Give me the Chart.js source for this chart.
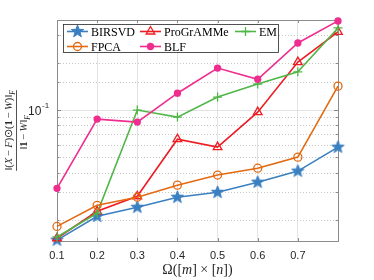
<!DOCTYPE html>
<html>
<head>
<meta charset="utf-8">
<script src="https://cdn.jsdelivr.net/npm/chart.js@4.4.0/dist/chart.umd.min.js"></script>
<style>
  html, body { margin: 0; padding: 0; background: #fff; }
</style>
</head>
<body>
<canvas id="errChart" width="374" height="280"></canvas>
<script>
// sampling ratio on the x axis
const omega = [0.1, 0.2, 0.3, 0.4, 0.5, 0.6, 0.7, 0.8];
const xTickLabels = ["0.1", "0.2", "0.3", "0.4", "0.5", "0.6", "0.7", ""];

// relative error for each method
const birsvd = [0.0149, 0.0211, 0.0241, 0.0279, 0.0300, 0.0348, 0.0409, 0.0581];
const programme = [0.0153, 0.0227, 0.0283, 0.0653, 0.0581, 0.097, 0.202, 0.314];
const em = [0.0156, 0.0221, 0.100, 0.0902, 0.121, 0.1465, 0.175, 0.333];
const fpca = [0.0182, 0.0248, 0.0279, 0.0333, 0.0386, 0.0427, 0.0502, 0.142];
const blf = [0.0318, 0.0876, 0.0839, 0.128, 0.185, 0.157, 0.267, 0.369];

const yMin = 0.0147;
const yMax = 0.374;

function starImage(color, r) {
  const c = document.createElement("canvas");
  const s = Math.ceil(r * 2 + 2);
  c.width = s;
  c.height = s;
  const g = c.getContext("2d");
  g.beginPath();
  for (let k = 0; k < 10; k++) {
    const rad = k % 2 ? r * 0.42 : r;
    const a = -Math.PI / 2 + (k * Math.PI) / 5;
    g.lineTo(s / 2 + rad * Math.cos(a), s / 2 + rad * Math.sin(a));
  }
  g.closePath();
  g.fillStyle = color;
  g.fill();
  g.strokeStyle = color;
  g.lineWidth = 1;
  g.stroke();
  return c;
}

const blue = "#3a7fc1";
const red = "#ee1c24";
const green = "#50b648";
const orange = "#e26a12";
const pink = "#ee2d8e";

// legend order (row by row, 3 columns)
const series = [
  { label: "BIRSVD", values: birsvd, color: blue, style: starImage(blue, 6.5), radius: 6.5, fill: blue },
  { label: "ProGrAMMe", values: programme, color: red, style: "triangle", radius: 5, fill: "rgba(255,255,255,0)" },
  { label: "EM", values: em, color: green, style: "cross", radius: 4.5, fill: green },
  { label: "FPCA", values: fpca, color: orange, style: "circle", radius: 4, fill: "rgba(255,255,255,0)" },
  { label: "BLF", values: blf, color: pink, style: "circle", radius: 3, fill: pink },
];

function isMajor(v) {
  const l = Math.log10(v);
  return Math.abs(l - Math.round(l)) < 1e-6;
}

function drawSegments(ctx, segs, x, y) {
  let cx = x;
  for (const s of segs) {
    ctx.font = s.font;
    ctx.fillText(s.t, cx, y + (s.dy || 0));
    cx += ctx.measureText(s.t).width;
  }
}

function segWidth(ctx, segs) {
  let w = 0;
  for (const s of segs) {
    ctx.font = s.font;
    w += ctx.measureText(s.t).width;
  }
  return w;
}

const boxColor = "#8c8c8c";
const serif = "'Liberation Serif', serif";

const decor = {
  id: "decor",
  beforeDatasetsDraw(chart) {
    const ctx = chart.ctx;
    const a = chart.chartArea;
    const xs = chart.scales.x;
    const ys = chart.scales.y;
    ctx.save();
    // dotted minor grid lines of the log axis
    ctx.strokeStyle = "#c8c8c8";
    ctx.lineWidth = 1;
    ctx.setLineDash([1, 2]);
    ctx.beginPath();
    ys.ticks.forEach((t) => {
      if (t.value <= yMin * 1.001 || t.value >= yMax * 0.999 || isMajor(t.value)) return;
      const py = Math.round(ys.getPixelForValue(t.value)) + 0.5;
      ctx.moveTo(a.left, py);
      ctx.lineTo(a.right, py);
    });
    ctx.stroke();
    ctx.setLineDash([]);

    ctx.strokeStyle = boxColor;
    ctx.lineWidth = 1;
    ctx.strokeRect(Math.round(a.left) + 0.5, Math.round(a.top) + 0.5,
      Math.round(a.right - a.left), Math.round(a.bottom - a.top));
    // inner tick marks on all four sides
    ctx.beginPath();
    xs.ticks.forEach((t) => {
      const px = Math.round(xs.getPixelForValue(t.value)) + 0.5;
      ctx.moveTo(px, a.bottom);
      ctx.lineTo(px, a.bottom - 3);
      ctx.moveTo(px, a.top);
      ctx.lineTo(px, a.top + 3);
    });
    ys.ticks.forEach((t) => {
      if (t.value <= yMin || t.value >= yMax) return;
      const py = Math.round(ys.getPixelForValue(t.value)) + 0.5;
      const len = isMajor(t.value) ? 4 : 2.5;
      ctx.moveTo(a.left, py);
      ctx.lineTo(a.left + len, py);
      ctx.moveTo(a.right, py);
      ctx.lineTo(a.right - len, py);
    });
    ctx.stroke();
    ctx.restore();
  },
  afterDraw(chart) {
    const ctx = chart.ctx;
    const a = chart.chartArea;
    const ys = chart.scales.y;
    ctx.save();
    ctx.fillStyle = "#262626";

    // 10^-1 tick label
    const py = ys.getPixelForValue(0.1);
    ctx.textBaseline = "middle";
    ctx.textAlign = "left";
    ctx.font = "12px 'Liberation Sans', sans-serif";
    ctx.fillText("10", 28, py + 2);
    ctx.font = "8px 'Liberation Sans', sans-serif";
    ctx.fillText("-1", 42, py - 4);

    // x title
    ctx.textBaseline = "middle";
    const f = "14px " + serif;
    const fi = "italic 14px " + serif;
    const xt = [
      { t: "Ω([", font: f }, { t: "m", font: fi }, { t: "] × [", font: f },
      { t: "n", font: fi }, { t: "])", font: f },
    ];
    const cxm = (a.left + a.right) / 2;
    drawSegments(ctx, xt, cxm - segWidth(ctx, xt) / 2, 270);

    // y title as rotated fraction
    ctx.save();
    ctx.translate(16, (a.top + a.bottom) / 2);
    ctx.rotate(-Math.PI / 2);
    ctx.textBaseline = "alphabetic";
    const r = "10.5px " + serif;
    const it = "italic 10.5px " + serif;
    const b = "bold 10.5px " + serif;
    const sub = "italic 7.5px " + serif;
    const num = [
      { t: "‖(", font: r }, { t: "X", font: it }, { t: "\u2009−\u2009", font: r }, { t: "F", font: it },
      { t: ")⊙(", font: r }, { t: "1", font: b }, { t: "\u2009−\u2009", font: r }, { t: "W", font: it },
      { t: ")‖", font: r }, { t: "F", font: sub, dy: 3 },
    ];
    const den = [
      { t: "‖", font: r }, { t: "1", font: b }, { t: "\u2009−\u2009", font: r }, { t: "W", font: it },
      { t: "‖", font: r }, { t: "F", font: sub, dy: 3 },
    ];
    const wn = segWidth(ctx, num);
    const wd = segWidth(ctx, den);
    drawSegments(ctx, num, -wn / 2, -4);
    drawSegments(ctx, den, -wd / 2 - 2, 11);
    ctx.strokeStyle = "#262626";
    ctx.lineWidth = 0.8;
    ctx.beginPath();
    ctx.moveTo(-wn / 2, 0.5);
    ctx.lineTo(wn / 2, 0.5);
    ctx.stroke();
    ctx.restore();

    // legend
    const lx = 63.5, ly = 24.5, lw = 215, lh = 28;
    ctx.fillStyle = "#fff";
    ctx.fillRect(lx, ly, lw, lh);
    ctx.strokeStyle = "#262626";
    ctx.lineWidth = 0.8;
    ctx.strokeRect(lx, ly, lw, lh);
    const colX = [67, 140, 235];
    const rowY = [31.5, 46.5];
    series.forEach((s, i) => {
      const x0 = colX[i % 3];
      const y0 = rowY[Math.floor(i / 3)];
      ctx.strokeStyle = s.color;
      ctx.lineWidth = 1.6;
      ctx.beginPath();
      ctx.moveTo(x0, y0);
      ctx.lineTo(x0 + 21, y0);
      ctx.stroke();
      ctx.fillStyle = s.fill;
      ctx.lineWidth = 1.3;
      Chart.helpers.drawPoint(ctx, {
        pointStyle: s.style, radius: s.radius, rotation: 0, borderWidth: 1.3,
      }, x0 + 10.5, y0);
      ctx.fillStyle = "#000";
      ctx.font = "12px " + serif;
      ctx.textBaseline = "middle";
      ctx.fillText(s.label, x0 + 24, y0 + 1);
    });
    ctx.restore();
  },
};

new Chart("errChart", {
  type: "line",
  data: {
    datasets: series.map((s, i) => ({
      label: s.label,
      data: omega.map((x, k) => ({ x: x, y: s.values[k] })),
      borderColor: s.color,
      backgroundColor: s.fill,
      borderWidth: 1.6,
      pointStyle: s.style,
      pointRadius: s.radius,
      pointBorderWidth: 1.3,
      pointBorderColor: s.color,
      pointBackgroundColor: s.fill,
      tension: 0,
      clip: 10,
      order: series.length - i,
    })),
  },
  options: {
    responsive: false,
    animation: false,
    devicePixelRatio: 1,
    layout: { padding: { left: 0, top: 20, right: 36, bottom: 0 } },
    plugins: { legend: { display: false }, tooltip: { enabled: false } },
    scales: {
      x: {
        type: "linear",
        min: 0.1,
        max: 0.8,
        afterFit: (scale) => { scale.height = 39; },
        ticks: {
          stepSize: 0.1,
          autoSkip: false,
          maxRotation: 0,
          padding: 8,
          color: "#262626",
          font: { family: "'Liberation Sans', sans-serif", size: 11 },
          callback: (v, i) => xTickLabels[i] ?? "",
        },
        grid: {
          drawTicks: false,
          color: (ctx) => (ctx.tick && (ctx.tick.value <= 0.1001 || ctx.tick.value >= 0.7999)
            ? "rgba(0,0,0,0)" : "#e3e3e3"),
          lineWidth: 1,
        },
        border: { display: false },
      },
      y: {
        type: "logarithmic",
        min: yMin,
        max: yMax,
        afterFit: (scale) => { scale.width = 57; },
        ticks: {
          autoSkip: false,
          callback: () => "",
        },
        grid: {
          drawTicks: false,
          // only the decade line is drawn here; minor lines are dotted in the plugin
          color: (ctx) => {
            if (!ctx.tick) return "rgba(0,0,0,0)";
            return isMajor(ctx.tick.value) ? "#e3e3e3" : "rgba(0,0,0,0)";
          },
          lineWidth: 1,
        },
        border: { display: false },
      },
    },
  },
  plugins: [decor],
});
</script>
</body>
</html>
